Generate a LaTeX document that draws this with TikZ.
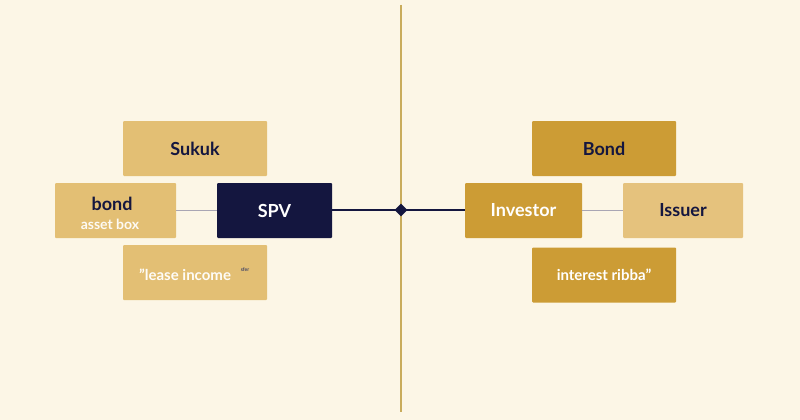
\documentclass[tikz,border=0pt]{standalone}
\usepackage{fontspec}
\setmainfont{Lato}
\usetikzlibrary{shapes.geometric}
\definecolor{bg}{HTML}{FCF6E6}
\definecolor{lightgold}{HTML}{E3BF74}
\definecolor{darkgold}{HTML}{CC9C35}
\definecolor{paleissuer}{HTML}{E5C27D}
\definecolor{navy}{HTML}{14163F}
\definecolor{axis}{HTML}{C9AC5C}
\definecolor{thin}{HTML}{A9A6B4}
\tikzset{
  box/.style={rectangle, rounded corners=1pt, inner sep=0pt, minimum height=55pt, font=\bfseries\fontsize{18}{20}\selectfont},
  lbox/.style={box, fill=lightgold, text=navy},
  dbox/.style={box, fill=darkgold, text=white},
  thinline/.style={draw=thin, line width=1pt},
  navyline/.style={draw=navy, line width=1.6pt},
}
\begin{document}
\begin{tikzpicture}[x=1pt,y=-1pt]
\fill[bg] (0,0) rectangle (800,420);
\useasboundingbox (0,0) rectangle (800,420);
\draw[axis, line width=1.5pt] (401,5) -- (401,412);
% left side
\node[lbox, minimum width=144pt] (sukuk) at (195,148.5) {Sukuk};
\node[lbox, minimum width=121pt] (bond) at (115.5,210.5) {};
\node[font=\bfseries\fontsize{18}{20}\selectfont, text=navy] (bondt) at (112,204) {bond};
\node[font=\bfseries\fontsize{14}{16}\selectfont, text=white!92!lightgold] (asset) at (110,224) {asset box};
\node[box, fill=navy, text=white, minimum width=115pt] (spv) at (274.5,210.5) {SPV};
\node[lbox, minimum width=144pt] (lease) at (195,272.5) {};
\node[font=\bfseries\fontsize{15}{17}\selectfont, text=white!95!lightgold] (leaset) at (185,275) {"lease income};
\node[font=\bfseries\fontsize{5}{6}\selectfont, text=navy!80] (sfer) at (245,270) {sfer};
% right side
\node[box, fill=darkgold, text=navy, minimum width=144pt] (bondr) at (604,148.5) {Bond};
\node[dbox, minimum width=117pt] (investor) at (523.5,210.5) {Investor};
\node[box, fill=paleissuer, text=navy, minimum width=120pt] (issuer) at (683,210.5) {Issuer};
\node[dbox, minimum width=144pt, font=\bfseries\fontsize{15}{17}\selectfont] (interest) at (604,275) {interest ribba"};
% connectors
\coordinate (mid) at (401,210);
\draw[thinline] (bond.east |- 0,210) -- (spv.west |- 0,210);
\draw[navyline] (spv.east |- 0,210) -- (mid) -- (investor.west |- 0,210);
\draw[thinline] (investor.east |- 0,210) -- (issuer.west |- 0,210);
\node[diamond, fill=navy, inner sep=0pt, minimum width=13pt, minimum height=13pt] (dia) at (mid) {};
\end{tikzpicture}
\end{document}
